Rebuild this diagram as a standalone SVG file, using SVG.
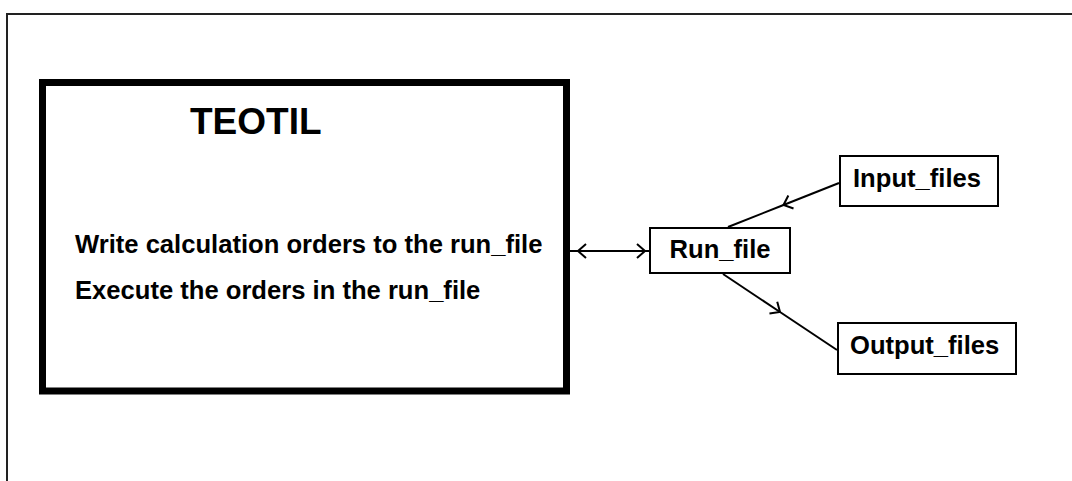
<svg xmlns="http://www.w3.org/2000/svg" width="1072" height="481" viewBox="0 0 1072 481">
<style>
text{font-family:"Liberation Sans",Arial,sans-serif;font-weight:bold;fill:#000}
.t{font-size:25.6px}
.box{fill:#fff;stroke:#000;stroke-width:2}
.con{fill:none;stroke:#000;stroke-width:2}
</style>
<defs>
<marker id="mid" markerUnits="userSpaceOnUse" markerWidth="20" markerHeight="20" viewBox="-2 -10 14 20" refX="8" refY="0" orient="auto">
<path d="M0,-7 L8,0 L0,7" fill="none" stroke="#000" stroke-width="2"/>
</marker>
<marker id="endA" markerUnits="userSpaceOnUse" markerWidth="20" markerHeight="20" viewBox="-2 -10 20 20" refX="12" refY="0" orient="auto">
<path d="M0,-7 L8,0 L0,7" fill="none" stroke="#000" stroke-width="2"/>
</marker>
<marker id="startA" markerUnits="userSpaceOnUse" markerWidth="24" markerHeight="20" viewBox="-2 -10 24 20" refX="16" refY="0" orient="auto-start-reverse">
<path d="M0,-7 L8,0 L0,7" fill="none" stroke="#000" stroke-width="2"/>
</marker>
</defs>
<rect width="1072" height="481" fill="#fff"/>
<rect x="7" y="14" width="1080" height="480" fill="none" stroke="#222" stroke-width="2"/>
<g id="connectors">
<path class="con" d="M570,251 L649,251" marker-start="url(#startA)" marker-end="url(#endA)"/>
<path class="con" d="M839,183 L783.5,205 L728,227" marker-mid="url(#mid)"/>
<path class="con" d="M723,274 L780,312 L837,350" marker-mid="url(#mid)"/>
</g>
<g id="teotil">
<rect x="42.5" y="82.5" width="524" height="308.5" fill="#fff" stroke="#000" stroke-width="7"/>
<text x="190" y="134" style="font-size:37px">TEOTIL</text>
<text class="t" x="75" y="253">Write calculation orders to the run_file</text>
<text class="t" x="75" y="299">Execute the orders in the run_file</text>
</g>
<g id="run_file">
<rect class="box" x="650" y="228" width="140" height="45"/>
<text class="t" x="720" y="258" text-anchor="middle">Run_file</text>
</g>
<g id="input_files">
<rect class="box" x="840" y="156" width="158" height="50"/>
<text class="t" x="853" y="187">Input_files</text>
</g>
<g id="output_files">
<rect class="box" x="838" y="323" width="178" height="51"/>
<text class="t" x="850" y="354">Output_files</text>
</g>
</svg>
